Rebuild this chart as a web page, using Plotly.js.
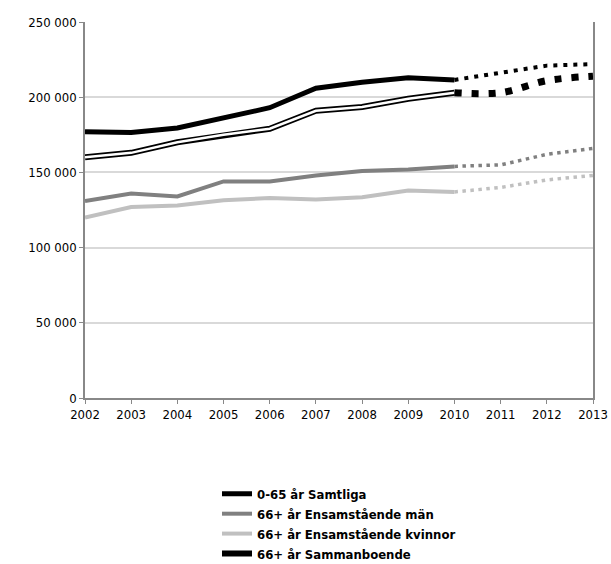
<!DOCTYPE html>
<html><head><meta charset="utf-8">
<script src="https://cdn.plot.ly/plotly-3.0.1.min.js"></script>
<style>body{margin:0}#c{width:611px;height:564px}</style></head>
<body><div id="c"></div>
<script>
const years = [2002,2003,2004,2005,2006,2007,2008,2009,2010];
const projYears = [2010,2011,2012,2013];
const samtliga = [177000,176500,179500,186000,193000,206000,210000,213000,211500];
const samtligaProj = [211500,216000,221000,222000];
const samman = [160000,163000,170000,175000,179000,191000,193500,199000,203000];
const sammanProj = [203000,203000,211000,214000];
const man = [131000,136000,134000,144000,144000,148000,151000,152000,154000];
const manProj = [154000,155000,162000,166000];
const kvinnor = [120000,127000,128000,131500,133000,132000,133500,138000,137000];
const kvinnorProj = [137000,140000,145000,148000];
const yTicks = [0,50000,100000,150000,200000,250000];
const yLabels = ['0','50 000','100 000','150 000','200 000','250 000'];

const F = '"DejaVu Sans Condensed","Liberation Sans Narrow",sans-serif';
const traces = [
 {x:years,y:samtliga,mode:'lines',name:'0-65 år Samtliga',line:{color:'#000',width:5},legendrank:1},
 {x:years,y:man,mode:'lines',name:'66+ år Ensamstående män',line:{color:'#808080',width:4},legendrank:2},
 {x:years,y:kvinnor,mode:'lines',name:'66+ år Ensamstående kvinnor',line:{color:'#c0c0c0',width:4},legendrank:3},
 {x:years,y:samman,mode:'lines',name:'66+ år Sammanboende',line:{color:'#000',width:6},legendrank:4},
 {x:years,y:samman,mode:'lines',showlegend:false,line:{color:'#fff',width:2.5},hoverinfo:'skip'},
 {x:projYears,y:samtligaProj,mode:'lines',showlegend:false,line:{color:'#000',width:4,dash:'4px,6px'}},
 {x:projYears,y:sammanProj,mode:'lines',showlegend:false,line:{color:'#000',width:7,dash:'7px,10px',shape:'spline'}},
 {x:projYears,y:manProj,mode:'lines',showlegend:false,line:{color:'#808080',width:3.5,dash:'3.5px,4.5px'}},
 {x:projYears,y:kvinnorProj,mode:'lines',showlegend:false,line:{color:'#c0c0c0',width:3.5,dash:'3.5px,4.5px'}}
];
const layout = {
 width:611,height:564,margin:{l:85,r:18,t:22,b:166,autoexpand:false},
 paper_bgcolor:'#fff',plot_bgcolor:'#fff',
 font:{family:F,size:13,color:'#000'},
 showlegend:true,
 legend:{x:0.5,xanchor:'center',y:-0.215,yanchor:'top',tracegroupgap:0,font:{family:F,size:13,weight:'bold'}},
 xaxis:{range:[2002,2013],tickvals:[2002,2003,2004,2005,2006,2007,2008,2009,2010,2011,2012,2013],showgrid:false,zeroline:false,showline:true,linecolor:'#888',linewidth:1.5,ticks:'outside',ticklen:4,tickcolor:'#888'},
 yaxis:{range:[0,250000],tickvals:yTicks,ticktext:yLabels,showgrid:true,gridcolor:'#d9d9d9',gridwidth:1.5,zeroline:false,showline:true,linecolor:'#888',linewidth:1.5,mirror:true,ticks:'outside',ticklen:4,tickcolor:'#888'}
};
Plotly.newPlot('c',traces,layout,{displayModeBar:false});
</script></body></html>
